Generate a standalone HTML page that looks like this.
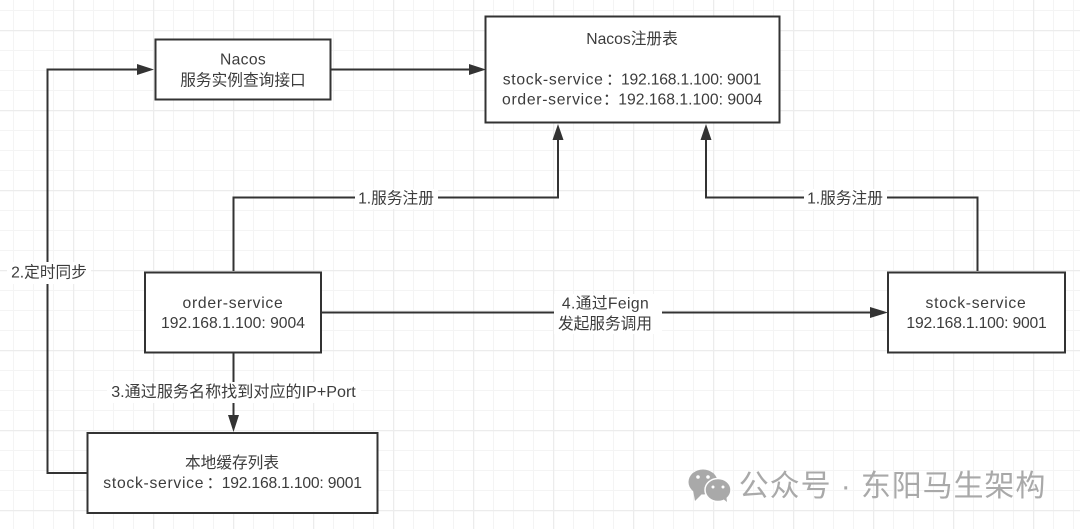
<!DOCTYPE html>
<html><head><meta charset="utf-8">
<style>
html,body{margin:0;padding:0;background:#fff;overflow:hidden}
svg{display:block;filter:blur(0.35px)}
text{font-family:"Liberation Sans","Noto Sans CJK SC",sans-serif;font-size:15.7px;fill:#3c3c3c;text-anchor:middle}
.s{text-anchor:start}
.n{letter-spacing:.72px}
.a{letter-spacing:-.2px}
</style></head>
<body>
<svg width="1080" height="529" viewBox="0 0 1080 529" xmlns="http://www.w3.org/2000/svg">
<defs>
<pattern id="g" x="13" y="10" width="20" height="20" patternUnits="userSpaceOnUse">
<path d="M0.5 0V20M0 0.5H20" stroke="#f4f4f4" stroke-width="1" fill="none"/>
</pattern>
<pattern id="G" x="73" y="30" width="80" height="80" patternUnits="userSpaceOnUse">
<path d="M0.5 0V80M0 0.5H80" stroke="#ececec" stroke-width="1.5" fill="none"/>
</pattern>
</defs>
<rect width="1080" height="529" fill="#fff"/>
<rect width="1080" height="529" fill="url(#g)"/>
<rect width="1080" height="529" fill="url(#G)"/>

<g fill="none" stroke="#333" stroke-width="2">
<path d="M87 473H47.500V69.500H140"/>
<path d="M331 69.500H472"/>
<path d="M233.500 271V197.500H558V138"/>
<path d="M977.500 271V197.500H706V138"/>
<path d="M233.500 352V418"/>
<path d="M321 312.500H872"/>
</g>
<g fill="#333">
<path d="M154 69.500L137 75V64Z"/>
<path d="M486 69.500L469 75V64Z"/>
<path d="M558 124L552.500 140H563.500Z"/>
<path d="M706 124L700.500 140H711.500Z"/>
<path d="M233.500 432L228 415H239Z"/>
<path d="M888 312.500L870 318V307Z"/>
</g>
<g fill="#fff" stroke="#333" stroke-width="2">
<rect x="155.500" y="39.500" width="175" height="60"/>
<rect x="485.500" y="16.500" width="294" height="106"/>
<rect x="145" y="272.500" width="176" height="80"/>
<rect x="888" y="272.500" width="177" height="80"/>
<rect x="87.500" y="433" width="290" height="80"/>
</g>

<g fill="#fff">
<rect x="355" y="189" width="83" height="20"/>
<rect x="804" y="189" width="83" height="20"/>
<rect x="7" y="262" width="84" height="22"/>
<rect x="554" y="294" width="108" height="40"/>
<rect x="107" y="382" width="254" height="21"/>
</g>

<text x="243" y="64.500" style="letter-spacing:.3px">Nacos</text>
<text x="243" y="85.500">服务实例查询接口</text>

<text x="632" y="44">Nacos注册表</text>
<text class="s" y="84.500"><tspan x="502.700" class="n">stock-service</tspan><tspan x="606">：</tspan><tspan x="621" class="a">192.168.1.100: 9001</tspan></text>
<text class="s" y="104.500"><tspan x="502" class="n">order-service</tspan><tspan x="603">：</tspan><tspan x="618.300">192.168.1.100: 9004</tspan></text>

<text x="233" y="308" class="n">order-service</text>
<text x="233" y="328">192.168.1.100: 9004</text>

<text x="976" y="308" class="n">stock-service</text>
<text x="976.500" y="328" class="a">192.168.1.100: 9001</text>

<text x="232" y="468">本地缓存列表</text>
<text class="s" y="488"><tspan x="103.300" class="n">stock-service</tspan><tspan x="206.500">：</tspan><tspan x="221.700" class="a">192.168.1.100: 9001</tspan></text>

<text x="396" y="203.500">1.服务注册</text>
<text x="845" y="203.500">1.服务注册</text>
<text x="49" y="277.500">2.定时同步</text>
<text x="233.500" y="397" style="font-size:16.1px">3.通过服务名称找到对应的IP+Port</text>
<text x="605.500" y="308.500" style="letter-spacing:.4px">4.通过Feign</text>
<text x="605" y="329">发起服务调用</text>

<g fill="#a9a9a9">
<ellipse cx="703" cy="482" rx="14.500" ry="12.500"/>
<path d="M693 490L695 501L704 492Z"/>
</g>
<ellipse cx="718" cy="490" rx="13" ry="11.500" fill="#a9a9a9" stroke="#fff" stroke-width="1.500"/>
<path d="M722 498L727 502L726 494Z" fill="#a9a9a9"/>
<g fill="#fff">
<circle cx="698" cy="477" r="1.800"/>
<circle cx="708" cy="477" r="1.800"/>
<circle cx="713" cy="487" r="1.500"/>
<circle cx="723" cy="487" r="1.500"/>
</g>
<text x="892.500" y="496" style="font-size:30px;fill:#a9a9a9;letter-spacing:.9px">公众号 · 东阳马生架构</text>
</svg>
</body></html>
